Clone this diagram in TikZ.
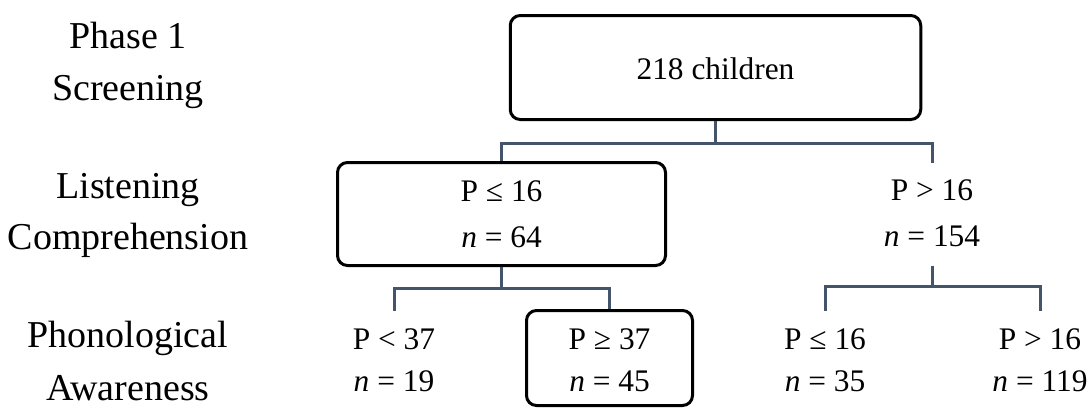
\documentclass[tikz,border=0pt]{standalone}
\usepackage{fontspec}
\setmainfont{Liberation Serif}
\definecolor{linkcol}{HTML}{44546A}
\begin{document}
\begin{tikzpicture}[x=0.5pt,y=-0.5pt,
  box/.style={draw=black, line width=1.5pt, rounded corners=5pt, inner sep=0pt},
  slot/.style={inner sep=0pt, outer sep=0pt},
  link/.style={draw=linkcol, line width=1.5pt},
  lab/.style={font=\fontsize{19}{22}\selectfont, anchor=base, inner sep=0pt},
  val/.style={font=\fontsize{15.7}{19}\selectfont, anchor=base, inner sep=0pt}]
\useasboundingbox (0,0) rectangle (1092,409);

% stage labels
\node[lab] (s1a) at (128,48)  {Phase 1};
\node[lab] (s1b) at (128,100) {Screening};
\node[lab] (s2a) at (128,198) {Listening};
\node[lab] (s2b) at (128,249) {Comprehension};
\node[lab] (s3a) at (128,347) {Phonological};
\node[lab] (s3b) at (128,400) {Awareness};

% boxes and unboxed groups
\node[box, minimum width=205.25pt, minimum height=52pt] (top) at (715.5,67.5) {};
\node[box, minimum width=164pt, minimum height=51.5pt] (lc) at (501.5,214) {};
\node[slot, minimum width=164pt, minimum height=51.5pt] (hi) at (932,214) {};
\node[box, minimum width=83pt, minimum height=47.5pt] (pa) at (609.5,358) {};
\node[slot, minimum width=83pt, minimum height=47.5pt] (lo1) at (394,358) {};
\node[slot, minimum width=83pt, minimum height=47.5pt] (lo3) at (825,358) {};
\node[slot, minimum width=83pt, minimum height=47.5pt] (lo4) at (1040,358) {};

% texts
\node[val] (t0)  at (715.5,79) {218 children};
\node[val] (t1a) at (501.5,201) {P ≤ 16};
\node[val] (t1b) at (501.5,247) {\textit{n} = 64};
\node[val] (t2a) at (932,200) {P > 16};
\node[val] (t2b) at (932,246) {\textit{n} = 154};
\node[val] (t3a) at (394,349) {P < 37};
\node[val] (t3b) at (394,391) {\textit{n} = 19};
\node[val] (t4a) at (609.5,349) {P ≥ 37};
\node[val] (t4b) at (609.5,391) {\textit{n} = 45};
\node[val] (t5a) at (825,349) {P ≤ 16};
\node[val] (t5b) at (825,391) {\textit{n} = 35};
\node[val] (t6a) at (1040,349) {P > 16};
\node[val] (t6b) at (1040,391) {\textit{n} = 119};

% connectors
\draw[link] (top.south) -- ++(0,22) -| (lc.north);
\draw[link] (top.south) -- ++(0,22) -| (hi.north);
\draw[link] (lc.south) -- ++(0,21) -| (lo1.north);
\draw[link] (lc.south) -- ++(0,21) -| (pa.north);
\draw[link] (hi.south) -- ++(0,21) -| (lo3.north);
\draw[link] (hi.south) -- ++(0,21) -| (lo4.north);
\end{tikzpicture}
\end{document}
